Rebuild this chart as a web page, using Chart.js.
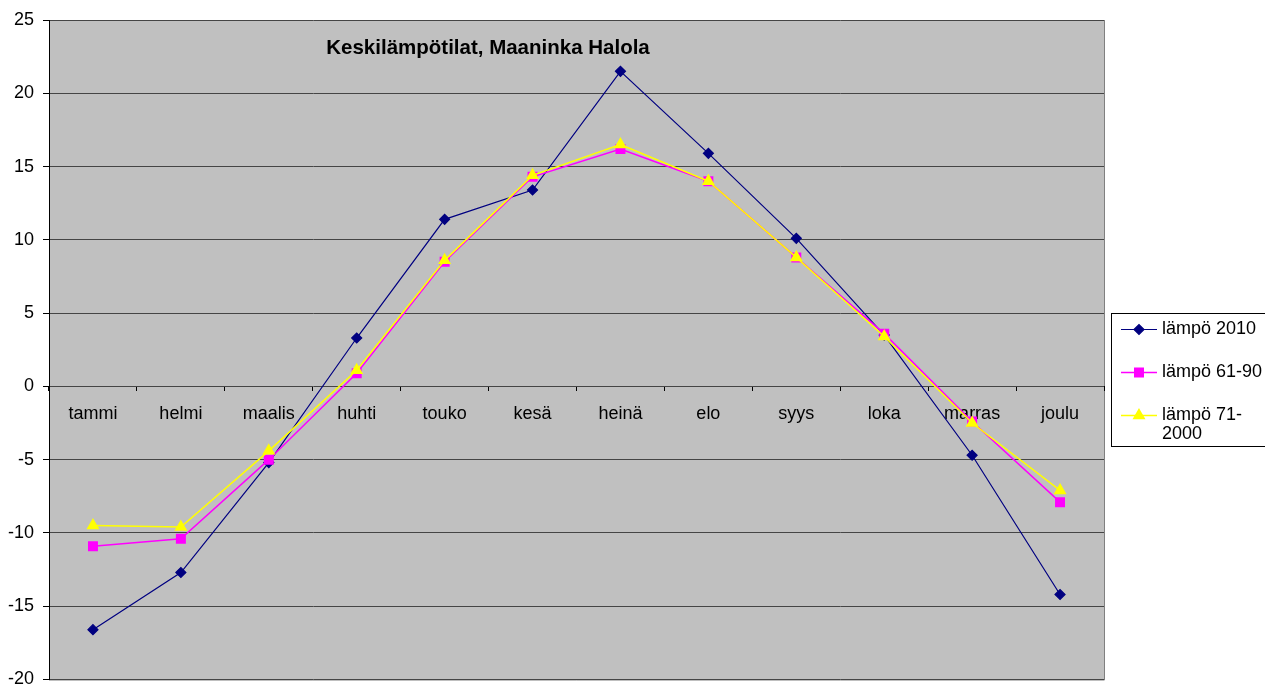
<!DOCTYPE html>
<html>
<head>
<meta charset="utf-8">
<script src="https://cdn.jsdelivr.net/npm/chart.js@4"></script>
<style>
  body { margin: 0; background: #fff; }
  #wrap { position: relative; width: 1265px; height: 687px; }
</style>
</head>
<body>
<div id="wrap"><canvas id="tempChart"></canvas></div>
<script>
// Monthly mean temperatures
const months = ['tammi', 'helmi', 'maalis', 'huhti', 'touko', 'kesä', 'heinä', 'elo', 'syys', 'loka', 'marras', 'joulu'];
const temp2010 = [-16.6, -12.7, -5.2, 3.3, 11.4, 13.4, 21.5, 15.9, 10.1, 3.5, -4.7, -14.2];
const temp6190 = [-10.9, -10.4, -5.0, 0.9, 8.5, 14.3, 16.2, 14.0, 8.8, 3.6, -2.4, -7.9];
const temp7100 = [-9.5, -9.6, -4.4, 1.1, 8.6, 14.4, 16.5, 14.0, 8.8, 3.4, -2.5, -7.1];
const chartTitle = 'Keskilämpötilat, Maaninka Halola';

const FONT = 'Arial, "Liberation Sans", sans-serif';

// Plot background + right/bottom frame
const plotBg = {
    id: 'plotBg',
    beforeDraw(chart) {
        const { ctx, chartArea: a } = chart;
        ctx.save();
        ctx.fillStyle = '#c0c0c0';
        ctx.fillRect(a.left, a.top, a.right - a.left, a.bottom - a.top);
        ctx.strokeStyle = '#808080';
        ctx.lineWidth = 1;
        ctx.beginPath();
        ctx.moveTo(a.right + 0.5, a.top);
        ctx.lineTo(a.right + 0.5, a.bottom + 0.5);
        ctx.lineTo(a.left, a.bottom + 0.5);
        ctx.stroke();
        ctx.restore();
    }
};

// Title inside the plot + boxed legend on the right
const extras = {
    id: 'extras',
    afterDraw(chart) {
        const ctx = chart.ctx;
        ctx.save();
        ctx.fillStyle = '#000';
        ctx.font = 'bold 20.5px ' + FONT;
        ctx.textAlign = 'center';
        ctx.textBaseline = 'middle';
        ctx.fillText(chartTitle, 488, 48);

        // legend box
        ctx.strokeStyle = '#000';
        ctx.lineWidth = 1;
        ctx.strokeRect(1111.5, 313.5, 160, 133);

        ctx.font = '18px ' + FONT;
        ctx.textAlign = 'left';
        const rows = [329, 372, 415];
        chart.data.datasets.forEach((ds, i) => {
            const y = rows[i];
            ctx.strokeStyle = ds.borderColor;
            ctx.lineWidth = ds.borderWidth;
            ctx.beginPath();
            ctx.moveTo(1121, y + 0.5);
            ctx.lineTo(1157, y + 0.5);
            ctx.stroke();
            ctx.fillStyle = ds.pointBackgroundColor;
            ctx.strokeStyle = ds.pointBackgroundColor;
            Chart.helpers.drawPoint(ctx, {
                pointStyle: ds.pointStyle,
                radius: ds.pointRadius,
                rotation: 0,
                borderWidth: 1
            }, 1139, y + 0.5);

            // wrap after hyphen if too wide
            ctx.fillStyle = '#000';
            let lines = [ds.label];
            if (ctx.measureText(ds.label).width > 105) {
                const cut = ds.label.indexOf('-') + 1;
                lines = [ds.label.slice(0, cut), ds.label.slice(cut)];
            }
            lines.forEach((t, k) => ctx.fillText(t, 1162, y + k * 19));
        });
        ctx.restore();
    }
};

new Chart(document.getElementById('tempChart'), {
    type: 'line',
    data: {
        labels: months,
        datasets: [
            {
                label: 'lämpö 2010',
                data: temp2010,
                borderColor: '#000080',
                pointBackgroundColor: '#000080',
                pointBorderColor: '#000080',
                borderWidth: 1.2,
                pointStyle: 'rectRot',
                pointRadius: 5,
                order: 3
            },
            {
                label: 'lämpö 61-90',
                data: temp6190,
                borderColor: '#ff00ff',
                pointBackgroundColor: '#ff00ff',
                pointBorderColor: '#ff00ff',
                borderWidth: 1.5,
                pointStyle: 'rect',
                pointRadius: 6,
                order: 2
            },
            {
                label: 'lämpö 71-2000',
                data: temp7100,
                borderColor: '#ffff00',
                pointBackgroundColor: '#ffff00',
                pointBorderColor: '#ffff00',
                borderWidth: 1.5,
                pointStyle: 'triangle',
                pointRadius: 6,
                order: 1
            }
        ]
    },
    options: {
        responsive: true,
        maintainAspectRatio: false,
        animation: false,
        events: [],
        layout: {
            padding: { top: 20, bottom: 7, left: 0, right: 161 }
        },
        elements: {
            line: { tension: 0 }
        },
        plugins: {
            legend: { display: false },
            tooltip: { enabled: false }
        },
        scales: {
            x: {
                position: { y: 0 },
                offset: true,
                grid: {
                    offset: true,
                    drawOnChartArea: false,
                    tickLength: 5,
                    color: '#000',
                    tickColor: '#000'
                },
                border: { display: false },
                ticks: {
                    color: '#000',
                    padding: 12,
                    maxRotation: 0,
                    autoSkip: false,
                    font: { family: FONT, size: 18 }
                }
            },
            y: {
                min: -20,
                max: 25,
                grid: {
                    color: '#454545',
                    tickColor: '#000',
                    tickLength: 6
                },
                border: { color: '#000', width: 1 },
                ticks: {
                    stepSize: 5,
                    color: '#000',
                    padding: 9,
                    font: { family: FONT, size: 18 }
                },
                afterFit(scale) {
                    scale.width = 49;
                    scale.paddingTop = 0;
                    scale.paddingBottom = 0;
                }
            }
        }
    },
    plugins: [plotBg, extras]
});
</script>
</body>
</html>
